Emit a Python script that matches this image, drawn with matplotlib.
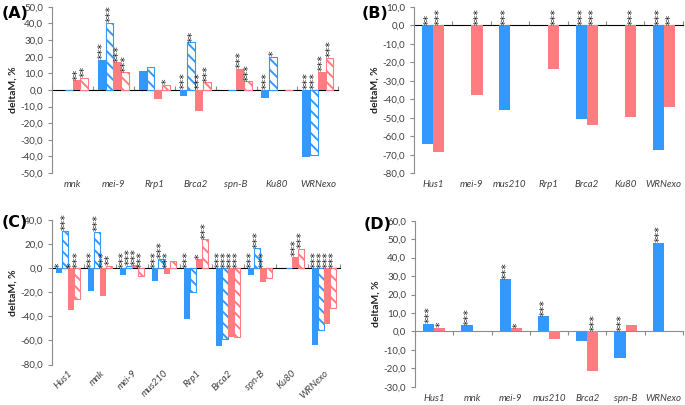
import matplotlib
matplotlib.use('Agg')
import matplotlib.pyplot as plt
from matplotlib.ticker import FuncFormatter
import numpy as np

# ---- data ----
cats_a = ['mnk', 'mei-9', 'Rrp1', 'Brca2', 'spn-B', 'Ku80', 'WRNexo']
a_blue = [0, 18.3, 11.4, -3.6, 0, -4.6, -40.6]
a_blue_h = [0, 40.4, 13.8, 28.6, 0, 19.8, -39.4]
a_red = [5.8, 16.6, -5.6, -12.6, 12.8, 0, 11.0]
a_red_h = [7.4, 10.6, 3.0, 4.6, 5.2, 0, 19.4]
a_stars = [
    ['', '***', '', '***', '', '***', '***'],
    ['', '***', '', '**', '', '*', '***'],
    ['**', '***', '', '***', '***', '', '***'],
    ['**', '***', '*', '***', '***', '', '***'],
]

cats_b = ['Hus1', 'mei-9', 'mus210', 'Rrp1', 'Brca2', 'Ku80', 'WRNexo']
b_blue = [-64.3, 0, -45.9, 0, -50.8, 0, -67.3]
b_red = [-68.7, -37.4, 0, -23.6, -54.0, -49.3, -44.1]
b_stars = [
    ['**', '', '***', '', '***', '', '***'],
    ['***', '***', '', '***', '***', '***', '**'],
]

cats_c = ['Hus1', 'mnk', 'mei-9', 'mus210', 'Rrp1', 'Brca2', 'spn-B', 'Ku80', 'WRNexo']
c_blue = [-4.0, -19.4, -5.5, -10.6, -42.5, -64.6, -5.7, 0, -63.8]
c_blue_h = [30.8, 30.3, 1.9, 7.6, -19.6, -58.9, 16.4, 0, -51.5]
c_red = [-34.4, -22.9, 2.5, -5.2, 7.4, -57.0, -11.5, 9.5, -46.6]
c_red_h = [-25.6, 1.9, -6.5, 5.5, 24.0, -57.3, -8.5, 15.8, -33.3]
c_stars = [
    ['*', '***', '***', '***', '***', '***', '***', '', '***'],
    ['***', '***', '***', '***', '', '***', '***', '', '***'],
    ['*', '***', '***', '***', '*', '***', '***', '***', '***'],
    ['***', '**', '***', '', '***', '***', '', '***', '***'],
]

cats_d = ['Hus1', 'mnk', 'mei-9', 'mus210', 'Brca2', 'spn-B', 'WRNexo']
d_blue = [4.2, 3.3, 28.2, 8.1, -5.4, -14.3, 48.1]
d_red = [1.8, 0, 1.6, -4.3, -21.7, 3.4, 0]
d_stars = [
    ['***', '***', '***', '***', '', '***', '***'],
    ['*', '', '*', '', '***', '', ''],
]

BLUE = '#3399ff'
RED = '#ff7c80'
GRAY = '#8c8c8c'
TXT = '#404040'

plt.rcParams['hatch.linewidth'] = 1.4
plt.rcParams['font.family'] = ['Lato', 'DejaVu Sans']

fig = plt.figure(figsize=(6.85, 4.05), dpi=100)


def fmt(v, pos):
    return ('%.1f' % v).replace('.', ',')


def panel(rect, cats, series, stars, ylim, ystep, width, rot=0):
    ax = fig.add_axes(rect)
    n = len(series)
    x = np.arange(len(cats))
    ymin, ymax = ylim
    off = (ymax - ymin) * 0.004
    for k, (vals, col, hatched) in enumerate(series):
        pos = x + (k - (n - 1) / 2) * width
        if hatched:
            ax.bar(pos, vals, width, color='white', edgecolor=col, hatch='\\\\\\', linewidth=0.8)
        else:
            ax.bar(pos, vals, width, color=col, edgecolor='none')
        for p, v, s in zip(pos, vals, stars[k]):
            if s:
                ax.text(p + width * 0.12, max(v, 0) + off, s, rotation=90, ha='center', va='bottom',
                        fontsize=8, color='#202020', family='DejaVu Sans')
    ax.set_xlim(-0.5, len(cats) - 0.5)
    ax.set_ylim(ymin, ymax)
    ax.set_yticks(np.arange(ymin, ymax + 0.01, ystep))
    ax.yaxis.set_major_formatter(FuncFormatter(fmt))
    for sp in ['top', 'right', 'bottom']:
        ax.spines[sp].set_visible(False)
    ax.spines['left'].set_color(GRAY)
    ax.spines['left'].set_linewidth(0.8)
    ax.tick_params(axis='y', length=3, color=GRAY, labelsize=7, labelcolor=TXT, width=0.8)
    ax.set_xticks(x)
    if rot:
        ax.set_xticklabels(cats, rotation=rot, ha='right', rotation_mode='anchor',
                           fontsize=7, style='italic', color=TXT)
        ax.tick_params(axis='x', length=0, pad=3)
    else:
        ax.set_xticklabels(cats, fontsize=7, style='italic', color=TXT)
        ax.tick_params(axis='x', length=0, pad=5)
    # zero line with category boundary ticks
    sec = ax.secondary_xaxis((0 - ymin) / (ymax - ymin))
    sec.set_xticks(np.arange(len(cats) + 1) - 0.5)
    sec.set_xticklabels([])
    sec.spines['bottom'].set_color(GRAY)
    sec.spines['bottom'].set_linewidth(0.8)
    sec.tick_params(length=3, color=GRAY, width=0.8)
    ax.set_ylabel('deltaM, %', fontsize=7.5, fontweight='bold', color='#202020', labelpad=2)
    return ax


panel([0.076, 0.573, 0.418, 0.41], cats_a,
      [(a_blue, BLUE, False), (a_blue_h, BLUE, True), (a_red, RED, False), (a_red_h, RED, True)],
      a_stars, (-50, 50), 10, 0.19)
panel([0.604, 0.572, 0.393, 0.411], cats_b,
      [(b_blue, BLUE, False), (b_red, RED, False)],
      b_stars, (-80, 10), 10, 0.29)
panel([0.076, 0.1, 0.42, 0.357], cats_c,
      [(c_blue, BLUE, False), (c_blue_h, BLUE, True), (c_red, RED, False), (c_red_h, RED, True)],
      c_stars, (-80, 40), 20, 0.19, rot=45)
panel([0.606, 0.045, 0.391, 0.41], cats_d,
      [(d_blue, BLUE, False), (d_red, RED, False)],
      d_stars, (-30, 60), 10, 0.29)

fig.text(0.003, 0.985, '(A)', fontsize=11.5, fontweight='bold', va='top', ha='left', family='DejaVu Sans')
fig.text(0.528, 0.985, '(B)', fontsize=11.5, fontweight='bold', va='top', ha='left', family='DejaVu Sans')
fig.text(0.003, 0.47, '(C)', fontsize=11.5, fontweight='bold', va='top', ha='left', family='DejaVu Sans')
fig.text(0.531, 0.465, '(D)', fontsize=11.5, fontweight='bold', va='top', ha='left', family='DejaVu Sans')

fig.savefig('out.png', dpi=100)
